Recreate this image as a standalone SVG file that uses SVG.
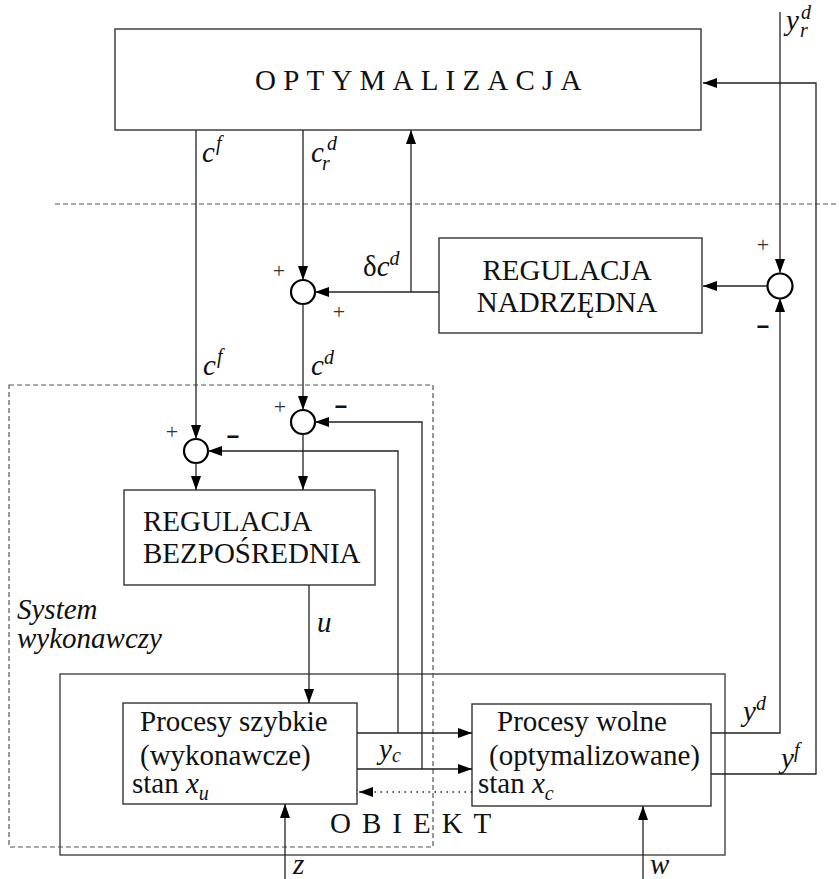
<svg xmlns="http://www.w3.org/2000/svg" width="839" height="879" viewBox="0 0 839 879">
  <style>
    .box { fill: #fff; stroke: #333; stroke-width: 1.4; }
    .frame { fill: none; stroke: #444; stroke-width: 1.4; }
    .dash { fill: none; stroke: #555; stroke-width: 1.2; stroke-dasharray: 5 3; }
    .sum { fill: #fff; stroke: #000; stroke-width: 2.2; }
    .wire { fill: none; stroke: #222; stroke-width: 1.3; }
    .arr { marker-end: url(#head); }
    .dot { fill: none; stroke: #222; stroke-width: 1.3; stroke-dasharray: 1.5 4.5; }
    .t { font-family: "Liberation Serif", "Times New Roman", serif; font-size: 29px; fill: #111; }
    .it { font-family: "Liberation Serif", "Times New Roman", serif; font-style: italic; font-size: 29px; fill: #111; }
    .sm { font-size: 20px; }
    .plus { font-family: "Liberation Serif", "Times New Roman", serif; font-size: 22px; fill: #333; text-anchor: middle; }
    .minus { font-family: "Liberation Sans", Arial, sans-serif; font-weight: bold; font-size: 22px; fill: #111; text-anchor: middle; }
  </style>
  <defs>
    <marker id="head" markerUnits="userSpaceOnUse" markerWidth="15" markerHeight="11" refX="14" refY="5" orient="auto">
      <path d="M0,0 L14,5 L0,10 z" fill="#000"/>
    </marker>
  </defs>
  <rect width="839" height="879" fill="#fff"/>

  <!-- level separator and the executive-system frame -->
  <line class="dash" x1="55" y1="204" x2="839" y2="204"/>
  <rect id="system-wykonawczy" class="dash" x="9" y="385" width="424" height="462"/>

  <!-- plant frame -->
  <g id="obiekt">
    <rect class="frame" x="60" y="674" width="665" height="181"/>
    <text class="t" x="330" y="833" letter-spacing="11">OBIEKT</text>
  </g>

  <g id="optymalizacja">
    <rect class="box" x="115" y="29" width="586" height="101"/>
    <text class="t" x="255" y="90" letter-spacing="7.2">OPTYMALIZACJA</text>
  </g>

  <g id="regulacja-nadrzedna">
    <rect class="box" x="439" y="238" width="263" height="95"/>
    <text class="t" text-anchor="middle"><tspan x="567" y="280">REGULACJA</tspan><tspan x="567" y="312">NADRZĘDNA</tspan></text>
  </g>

  <g id="regulacja-bezposrednia">
    <rect class="box" x="124" y="490" width="251" height="95"/>
    <text class="t"><tspan x="143" y="531">REGULACJA</tspan><tspan x="143" y="563">BEZPOŚREDNIA</tspan></text>
  </g>

  <g id="procesy-szybkie">
    <rect class="box" x="123" y="703" width="234" height="101"/>
    <text class="t"><tspan x="140" y="731">Procesy szybkie</tspan><tspan x="140" y="765">(wykonawcze)</tspan><tspan x="132" y="793">stan </tspan><tspan class="it">x</tspan><tspan class="it sm" dy="7">u</tspan></text>
  </g>

  <g id="procesy-wolne">
    <rect class="box" x="472" y="704" width="239" height="102"/>
    <text class="t"><tspan x="497" y="731">Procesy wolne</tspan><tspan x="489" y="765">(optymalizowane)</tspan><tspan x="478" y="793">stan </tspan><tspan class="it">x</tspan><tspan class="it sm" dy="7">c</tspan></text>
  </g>

  <!-- summing junctions -->
  <g id="sum-nadrzedna">
    <circle class="sum" cx="303" cy="292" r="12"/>
    <text class="plus" x="279" y="278">+</text>
    <text class="plus" x="339" y="319">+</text>
  </g>
  <g id="sum-wyjscie">
    <circle class="sum" cx="780" cy="286" r="12.5"/>
    <text class="plus" x="763" y="252">+</text>
    <text class="minus" x="763" y="334">−</text>
  </g>
  <g id="sum-cf">
    <circle class="sum" cx="196" cy="451" r="12"/>
    <text class="plus" x="172" y="439">+</text>
    <text class="minus" x="233" y="444">−</text>
  </g>
  <g id="sum-cd">
    <circle class="sum" cx="303" cy="422" r="12"/>
    <text class="plus" x="280" y="414">+</text>
    <text class="minus" x="341" y="414">−</text>
  </g>

  <!-- connectors -->
  <g id="connectors">
    <path class="wire arr" d="M196,130 V439"/>
    <path class="wire arr" d="M303,130 V280"/>
    <path class="wire arr" d="M439,292 H315"/>
    <path class="wire arr" d="M411,292 V130"/>
    <path class="wire arr" d="M303,304 V410"/>
    <path class="wire arr" d="M767,286 H703"/>
    <path class="wire arr" d="M780,12 V273"/>
    <path class="wire arr" d="M711,733 H780 V298"/>
    <path class="wire arr" d="M711,774 H816 V83 H703"/>
    <path class="wire arr" d="M196,463 V490"/>
    <path class="wire arr" d="M303,434 V490"/>
    <path class="wire arr" d="M309,585 V703"/>
    <path class="wire arr" d="M357,733 H472"/>
    <path class="wire arr" d="M398,733 V451 H208"/>
    <path class="wire arr" d="M357,769 H472"/>
    <path class="wire arr" d="M422,769 V422 H315"/>
    <path class="dot" d="M472,792 H372"/>
    <path class="wire arr" d="M373,792 H359"/>
    <path class="wire arr" d="M285,879 V804"/>
    <path class="wire arr" d="M643,879 V806"/>
  </g>

  <!-- signal labels -->
  <g id="labels">
    <text class="it" x="202" y="162">c<tspan class="sm" dx="1" dy="-12">f</tspan></text>
    <text class="it" x="311" y="162">c<tspan class="sm" x="327" y="150">d</tspan><tspan class="sm" x="322" y="170">r</tspan></text>
    <text class="it" x="786" y="30">y<tspan class="sm" x="801" y="19">d</tspan><tspan class="sm" x="800" y="37">r</tspan></text>
    <text class="t" x="363" y="276">δ<tspan class="it">c</tspan><tspan class="it sm" dy="-11">d</tspan></text>
    <text class="it" x="203" y="375">c<tspan class="sm" dx="1" dy="-12">f</tspan></text>
    <text class="it" x="311" y="375">c<tspan class="sm" dy="-11">d</tspan></text>
    <text class="it"><tspan x="17" y="619">System</tspan><tspan x="17" y="648">wykonawczy</tspan></text>
    <text class="it" x="317" y="632">u</text>
    <text class="it" x="379" y="759">y<tspan class="sm" dy="3">c</tspan></text>
    <text class="it" x="743" y="721">y<tspan class="sm" dy="-11">d</tspan></text>
    <text class="it" x="781" y="768">y<tspan class="sm" dy="-11">f</tspan></text>
    <text class="it" x="293" y="874">z</text>
    <text class="it" x="650" y="874">w</text>
  </g>
</svg>
